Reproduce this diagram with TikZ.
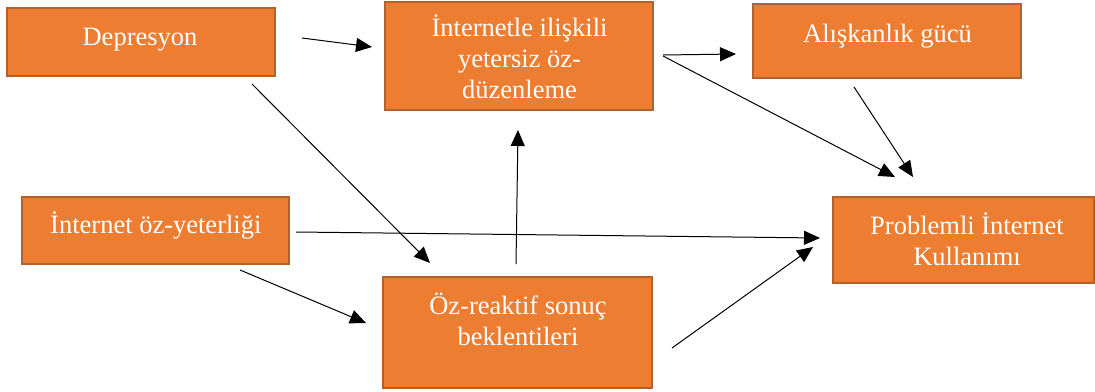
\documentclass[tikz,border=0pt]{standalone}
\usepackage{fontspec}
\setmainfont{Liberation Serif}
\usetikzlibrary{arrows.meta}
\definecolor{boxfill}{HTML}{ED7D31}
\definecolor{boxline}{HTML}{B5622A}
\begin{document}
\begin{tikzpicture}[x=1pt,y=-1pt,
  box/.style={draw=boxline,line width=2pt,fill=boxfill,inner sep=0pt,
              minimum width=#1},
  txt/.style={text=white,align=center,anchor=base,inner sep=0pt,
              font=\fontsize{26.5}{31}\selectfont},
  link/.style={line width=1pt,-{Triangle[length=16pt,width=14pt]}}]
\useasboundingbox (0,0) rectangle (1095,391);

% boxes
\node[box=268pt,minimum height=68pt]  (dep) at (141,42)    {};
\node[box=268pt,minimum height=108pt] (ise) at (519,56)    {};
\node[box=268pt,minimum height=74pt]  (ali) at (887,41)    {};
\node[box=267pt,minimum height=67pt]  (iny) at (155.5,230.5) {};
\node[box=261pt,minimum height=86pt]  (piu) at (963.5,240) {};
\node[box=269pt,minimum height=111pt] (ozr) at (517.5,332.5) {};

% labels (anchored at the baseline of their last line)
\node[txt] (depT) at (140,45)  {Depresyon};
\node[txt] (iseT) at (519.5,98) {İnternetle ilişkili\\yetersiz öz-\\düzenleme};
\node[txt] (aliT) at (887.5,42) {Alışkanlık gücü};
\node[txt] (inyT) at (155.8,233) {İnternet öz-yeterliği};
\node[txt] (piuT) at (967,265) {Problemli İnternet\\Kullanımı};
\node[txt] (ozrT) at (518,345) {Öz-reaktif sonuç\\beklentileri};

% free ends of the connectors
\coordinate (a1s) at (302,38);  \coordinate (a1e) at (372,47);
\coordinate (a2s) at (252,84);  \coordinate (a2e) at (430,263);
\coordinate (a3s) at (296,232); \coordinate (a3e) at (820,238);
\coordinate (a4s) at (240,270); \coordinate (a4e) at (366,323);
\coordinate (a5s) at (516,264); \coordinate (a5e) at (518,130);
\coordinate (a6s) at (672,348); \coordinate (a6e) at (813,247);
\coordinate (a7s) at (663,55);  \coordinate (a7e) at (736,54);
\coordinate (a8s) at (663,56);  \coordinate (a8e) at (895,177);
\coordinate (a9s) at (854,87);  \coordinate (a9e) at (913,177);

% connectors
\draw[link] (a1s) -- (a1e);
\draw[link] (a2s) -- (a2e);
\draw[link] (a3s) -- (a3e);
\draw[link] (a4s) -- (a4e);
\draw[link] (a5s) -- (a5e);
\draw[link] (a6s) -- (a6e);
\draw[link] (a7s) -- (a7e);
\draw[link] (a8s) -- (a8e);
\draw[link] (a9s) -- (a9e);
\end{tikzpicture}
\end{document}
